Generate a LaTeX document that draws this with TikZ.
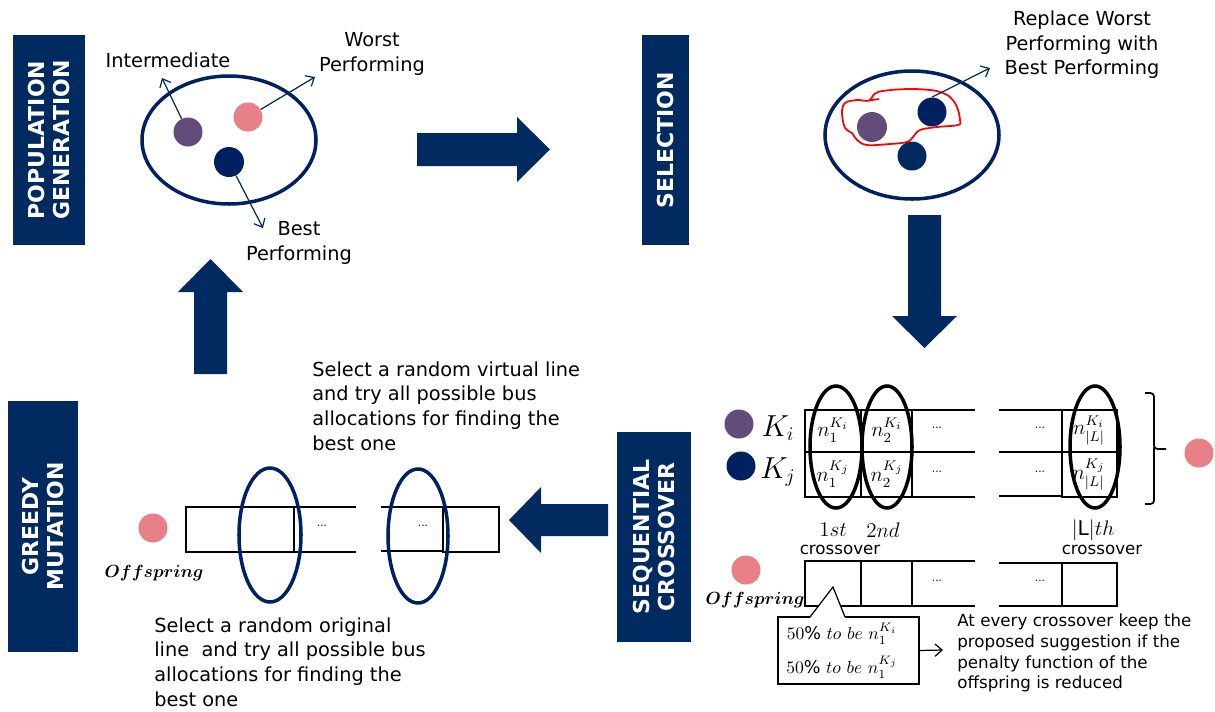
\documentclass[tikz,border=0pt]{standalone}
\usepackage{amsmath}
\usepackage{fontspec}
\setmainfont{DejaVu Sans}
\usetikzlibrary{calc,arrows.meta}

\definecolor{navy}{RGB}{0,42,96}
\definecolor{darknavy}{RGB}{0,32,96}
\definecolor{plum}{RGB}{100,76,122}
\definecolor{salmon}{RGB}{232,128,136}

\begin{document}
\begin{tikzpicture}[x=0.02cm, y=-0.02cm,
  >={Straight Barb[length=4pt, width=7pt]},
  stagebox/.style={fill=navy, text=white, align=center, rotate=90, inner sep=0pt,
    font=\fontsize{12.5}{14.5}\selectfont\bfseries},
  dot/.style={circle, inner sep=0pt, minimum size=0.58cm},
  note/.style={font=\fontsize{11}{14}\selectfont, align=center, inner sep=0pt},
  small/.style={font=\fontsize{9.5}{11.9}\selectfont, inner sep=0pt},
  cellnum/.style={font=\fontsize{12}{13}\selectfont, inner sep=0pt},
  gapdots/.style={font=\fontsize{6}{7}\selectfont, inner sep=0pt},
  cell/.style={line width=0.7pt},
  ring/.style={line width=2pt},
  pointer/.style={->, navy, line width=0.7pt}]
  \useasboundingbox (0,0) rectangle (1215,711);

  \node[stagebox, minimum width=4.2cm, minimum height=1.44cm] (popgen) at (49,140) {POPULATION\\GENERATION};
  \node[stagebox, minimum width=4.2cm, minimum height=0.94cm] (select) at (665.5,140) {SELECTION};
  \node[stagebox, minimum width=4.2cm, minimum height=1.48cm] (cross) at (654,537) {SEQUENTIAL\\CROSSOVER};
  \node[stagebox, minimum width=5.02cm, minimum height=1.4cm] (mutate) at (43,526.5) {GREEDY\\MUTATION};

  \fill[navy] (417,133) -- (517,133) -- (517,117) -- (550,149.5) -- (517,182) -- (517,166) -- (417,166) -- cycle;
  \fill[navy] (908,215) -- (941,215) -- (941,316) -- (957,316) -- (924.5,348) -- (892,316) -- (908,316) -- cycle;
  \fill[navy] (608,504) -- (541,504) -- (541,487) -- (509,520) -- (541,553) -- (541,536) -- (608,536) -- cycle;
  \fill[navy] (194,374) -- (194,292) -- (178,292) -- (210.5,259) -- (243,292) -- (227,292) -- (227,374) -- cycle;

  % population
  \draw[ring, darknavy] (229,140) ellipse [x radius=87, y radius=64];
  \node[dot, fill=plum] (inter) at (188,132) {};
  \node[dot, fill=salmon] (worst) at (248,117) {};
  \node[dot, fill=darknavy, minimum size=0.6cm] (best) at (229,162) {};
  \node[note] (interlbl) at (168,60) {Intermediate};
  \node[note] (worstlbl) at (372,54) {Worst\\Performing};
  \node[note] (bestlbl) at (299,243) {Best\\Performing};
  \coordinate (interend) at (162,78);
  \coordinate (worstend) at (315,77);
  \coordinate (bestend) at (263,228);
  \draw[pointer] (inter) -- (interend);
  \draw[pointer] (worst) -- (worstend);
  \draw[pointer] (best) -- (bestend);

  % selection
  \draw[ring, darknavy] (912,135) ellipse [x radius=87, y radius=64];
  \node[dot, fill=plum, minimum size=0.6cm] (keep) at (872,127) {};
  \node[dot, fill=darknavy] (copy) at (932,112) {};
  \node[dot, fill=navy] (elite) at (912,156) {};
  \draw[red, line width=1pt] (879,99) -- (869,100.5);
  \draw[red, line width=1pt] plot[smooth cycle, tension=0.6] coordinates {(869,100.5) (878,92) (907,89) (930,90) (940,92) (950,97) (957,107) (960,120) (958,125) (937,127) (920,130) (913,137) (907,142) (890,144) (867,145) (857,140) (852,133) (845,128) (842,113) (845,103) (857,100)};
  \node[note] (replacelbl) at (1082,45) {Replace Worst\\Performing with\\Best Performing};
  \coordinate (copyend) at (990,68);
  \draw[pointer] (copy.north) -- (copyend);

  % mutation
  \node[dot, fill=salmon] (child) at (153,528) {};
  \node[font=\fontsize{10}{12}\selectfont\boldmath, inner sep=0pt] (childlbl) at (154,573) {$Offspring$};
  \draw[cell] (186,507) rectangle (294,552);
  \draw[cell] (294,507) -- (356,507) (294,552) -- (356,552);
  \draw[cell] (381,507) -- (443,507) (381,551) -- (443,551);
  \draw[cell] (443,507) rectangle (499,552);
  \node[gapdots] (mgap1) at (322,526) {...};
  \node[gapdots] (mgap2) at (423,526) {...};
  \draw[ring, darknavy] (270,535) ellipse [x radius=31, y radius=67];
  \draw[ring, darknavy] (418,536) ellipse [x radius=30, y radius=67];
  \node[note, align=left, anchor=west] (virtual) at (312,406) {Select a random virtual line\\and try all possible bus\\allocations for finding the\\best one};
  \node[note, align=left, anchor=west] (original) at (154,662) {Select a random original\\line\ \ and try all possible bus\\allocations for finding the\\best one};

  % crossover
  \node[dot, fill=plum] (parenti) at (739,424) {};
  \node[dot, fill=darknavy] (parentj) at (741,466) {};
  \node[font=\fontsize{16}{18}\selectfont, inner sep=0pt] (kilbl) at (778,428) {$K_i$};
  \node[font=\fontsize{16}{18}\selectfont, inner sep=0pt] (kjlbl) at (778,472) {$K_j$};
  \draw[cell] (805,410) rectangle (912,497);
  \draw[cell] (861,410) -- (861,497);
  \draw[cell] (912,410) -- (975,410) (912,497) -- (975,497);
  \draw[cell] (805,452) -- (975,452) (999,452) -- (1117,452);
  \draw[cell] (999,410) -- (1062,410) (999,496) -- (1062,496);
  \draw[cell] (1062,410) rectangle (1117,497);
  \node[cellnum] (ni1) at (833,430) {$n_1^{K_i}$};
  \node[cellnum] (ni2) at (887,430) {$n_2^{K_i}$};
  \node[gapdots] (igap1) at (937,428) {...};
  \node[gapdots] (igap2) at (1040,428) {...};
  \node[cellnum] (niL) at (1089,430) {$n_{|L|}^{K_i}$};
  \node[cellnum] (nj1) at (833,474) {$n_1^{K_j}$};
  \node[cellnum] (nj2) at (887,474) {$n_2^{K_j}$};
  \node[gapdots] (jgap1) at (937,472) {...};
  \node[gapdots] (jgap2) at (1040,472) {...};
  \node[cellnum] (njL) at (1089,474) {$n_{|L|}^{K_j}$};
  \draw[ring, black] (836,447) ellipse [x radius=26, y radius=61];
  \draw[ring, black] (887,447) ellipse [x radius=25, y radius=61];
  \draw[ring, black] (1095,447) ellipse [x radius=25, y radius=61];
  \draw[line width=1pt, rounded corners=2pt] (1145,393) -| (1154,449) -- (1166,449);
  \draw[line width=1pt, rounded corners=2pt] (1154,447) |- (1145,504);
  \node[dot, fill=salmon] (merged) at (1199,453) {};
  \node[font=\fontsize{11.5}{12}\selectfont, inner sep=0pt] (firstlbl) at (833,530) {$1st$};
  \node[font=\fontsize{11.5}{12}\selectfont, inner sep=0pt] (secondlbl) at (883,530) {$2nd$};
  \node[small] (firstcross) at (840,550) {crossover};
  \node[font=\fontsize{11.5}{12}\selectfont, inner sep=0pt] (lastlbl) at (1093,530) {$|\mathrm{L}|th$};
  \node[small] (lastcross) at (1102,550) {crossover};

  \node[dot, fill=salmon] (offspring) at (746,570) {};
  \node[font=\fontsize{10}{12}\selectfont\boldmath, inner sep=0pt] (offlbl) at (755,600) {$Offspring$};
  \draw[cell] (805,561) rectangle (912,606);
  \draw[cell] (861,561) -- (861,606);
  \draw[cell] (912,561) -- (975,561) (912,606) -- (975,606);
  \draw[cell] (999,563) -- (1062,563) (999,606) -- (1062,606);
  \draw[cell] (1062,563) rectangle (1117,606);
  \node[gapdots] (ogap1) at (937,581) {...};
  \node[gapdots] (ogap2) at (1040,581) {...};

  \node[draw, cell, minimum width=2.82cm, minimum height=1.34cm, inner sep=0pt] (callout) at (848.5,650.5) {};
  \fill[white] (810,618) -- (833,587) -- (845,618) -- cycle;
  \draw[cell] (810,617) -- (833,587) -- (845,617);
  \node[font=\fontsize{10}{11}\selectfont, inner sep=0pt] (halfi) at (842,634) {$50\%\ to\ be\ n_1^{K_i}$};
  \node[font=\fontsize{10}{11}\selectfont, inner sep=0pt] (halfj) at (842,667) {$50\%\ to\ be\ n_1^{K_j}$};
  \coordinate (calloutend) at (943,650);
  \draw[->, line width=0.7pt] (callout.east) -- (calloutend);
  \node[small, align=left, anchor=west] (keeprule) at (957,653) {At every crossover keep the\\proposed suggestion if the\\penalty function of the\\offspring is reduced};
\end{tikzpicture}
\end{document}
